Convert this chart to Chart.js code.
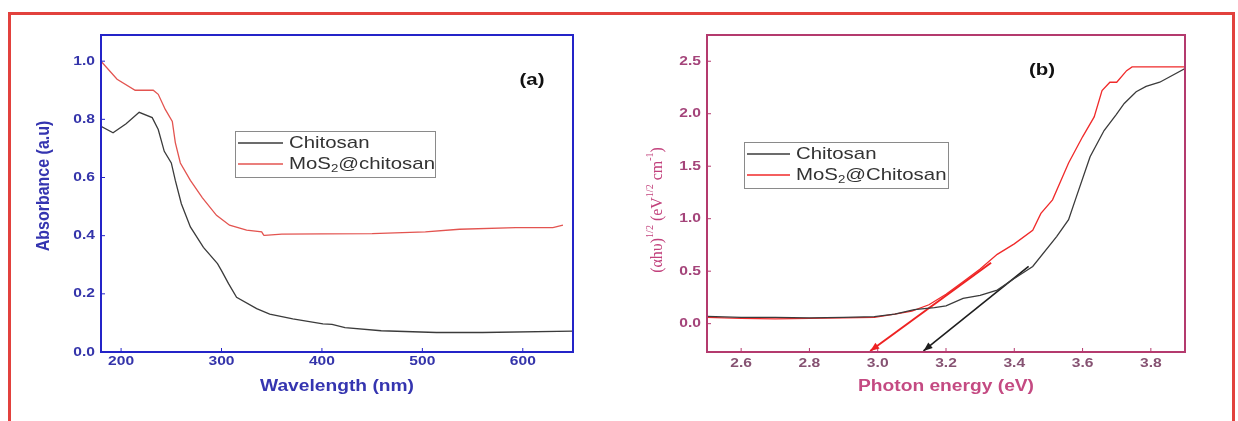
<!DOCTYPE html>
<html>
<head>
<meta charset="utf-8">
<script src="https://cdn.jsdelivr.net/npm/chart.js@4.4.1/dist/chart.umd.min.js"></script>
<style>
  html, body { margin: 0; padding: 0; background: #fff; }
  #wrap { position: relative; width: 1238px; height: 421px; overflow: hidden; }
  #border { position: absolute; left: 8px; top: 12px; width: 1221px; height: 440px;
            border: 3px solid #e2413d; border-bottom: none; }
  canvas { position: absolute; top: 0; }
</style>
</head>
<body>
<div id="wrap">
  <div id="border"></div>
  <canvas id="chartA" width="620" height="421" style="left:0;width:620px;height:421px"></canvas>
  <canvas id="chartB" width="618" height="421" style="left:620px;width:618px;height:421px"></canvas>
</div>
<script>
// (a) absorbance spectra
const wlChitosan = [180, 192, 205, 218, 231, 237, 243, 250, 254, 260, 269, 282, 296, 300, 307, 315, 335, 348, 371, 401, 410, 423, 459, 514, 560, 650];
const absChitosan = [0.776, 0.754, 0.785, 0.824, 0.806, 0.765, 0.69, 0.65, 0.59, 0.51, 0.43, 0.36, 0.304, 0.28, 0.235, 0.188, 0.149, 0.13, 0.114, 0.097, 0.095, 0.084, 0.073, 0.067, 0.067, 0.072];
const wlMos2 = [180, 196, 214, 232, 237, 244, 251, 254, 259, 269, 281, 295, 308, 325, 340, 342, 343, 360, 400, 450, 503, 537, 593, 630, 640];
const absMos2 = [1.0, 0.938, 0.9, 0.9, 0.886, 0.834, 0.793, 0.72, 0.65, 0.59, 0.53, 0.47, 0.436, 0.419, 0.413, 0.402, 0.401, 0.405, 0.406, 0.407, 0.413, 0.422, 0.428, 0.428, 0.436];
const wlTicks = [200, 300, 400, 500, 600];
const wlTickLabels = ['200', '300', '400', '500', '600'];
const absTicks = [0, 0.2, 0.4, 0.6, 0.8, 1.0];
const absTickLabels = ['0.0', '0.2', '0.4', '0.6', '0.8', '1.0'];

// (b) Tauc plot
const eChitosan = [2.5, 2.6, 2.7, 2.8, 2.9, 2.99, 3.05, 3.107, 3.166, 3.2, 3.25, 3.3, 3.35, 3.4, 3.454, 3.524, 3.559, 3.582, 3.622, 3.663, 3.698, 3.722, 3.757, 3.786, 3.826, 3.9];
const taucChitosan = [0.07, 0.06, 0.06, 0.055, 0.06, 0.067, 0.09, 0.133, 0.152, 0.17, 0.24, 0.27, 0.32, 0.43, 0.545, 0.83, 0.99, 1.21, 1.59, 1.84, 1.99, 2.098, 2.21, 2.26, 2.3, 2.43];
const eMos2 = [2.5, 2.6, 2.7, 2.8, 2.9, 2.99, 3.05, 3.1, 3.15, 3.2, 3.25, 3.3, 3.35, 3.4, 3.454, 3.478, 3.512, 3.559, 3.6, 3.634, 3.657, 3.68, 3.7, 3.729, 3.745, 3.9];
const taucMos2 = [0.06, 0.05, 0.045, 0.05, 0.055, 0.06, 0.09, 0.12, 0.18, 0.28, 0.4, 0.52, 0.66, 0.76, 0.89, 1.05, 1.18, 1.53, 1.78, 1.97, 2.22, 2.3, 2.3, 2.41, 2.446, 2.446];
const eFitMos2 = [2.978, 3.332];
const yFitMos2 = [-0.26, 0.58];
const eFitChitosan = [3.134, 3.442];
const yFitChitosan = [-0.26, 0.545];
const eTicks = [2.6, 2.8, 3.0, 3.2, 3.4, 3.6, 3.8];
const eTickLabels = ['2.6', '2.8', '3.0', '3.2', '3.4', '3.6', '3.8'];
const taucTicks = [0, 0.5, 1.0, 1.5, 2.0, 2.5];
const taucTickLabels = ['0.0', '0.5', '1.0', '1.5', '2.0', '2.5'];

const SANS = '"Liberation Sans", Arial, sans-serif';
const SERIF = '"Liberation Serif", "Times New Roman", serif';
const SX = 1.2; // the source figure is stretched sideways

const pts = (xs, ys) => xs.map((x, i) => ({ x, y: ys[i] }));

// draws text made of plain / sup / sub pieces
function richText(ctx, segs, x, y, o) {
  const size = o.size;
  const fontFor = (m) => `${o.weight || 'normal'} ${m ? Math.round(size * 0.62) : size}px ${o.family}`;
  let total = 0;
  segs.forEach(([t, m]) => { ctx.font = fontFor(m); total += ctx.measureText(t).width; });
  ctx.save();
  ctx.translate(x, y);
  ctx.scale(o.sx || 1, 1);
  if (o.rot) ctx.rotate(o.rot);
  ctx.fillStyle = o.color;
  ctx.textBaseline = 'middle';
  ctx.textAlign = 'left';
  let cx = o.align === 'left' ? 0 : o.align === 'right' ? -total : -total / 2;
  segs.forEach(([t, m]) => {
    ctx.font = fontFor(m);
    const dy = m === 'sup' ? -size * 0.38 : m === 'sub' ? size * 0.3 : 0;
    ctx.fillText(t, cx, dy);
    cx += ctx.measureText(t).width;
  });
  ctx.restore();
}

const setTicks = (values) => (scale) => { scale.ticks = values.map((v) => ({ value: v })); };

const decor = (c) => ({
  id: 'decor',
  afterDraw(chart) {
    const { ctx, chartArea: a, scales: { x, y } } = chart;
    ctx.save();
    // inward tick marks
    ctx.strokeStyle = c.frame;
    ctx.lineWidth = 1;
    ctx.beginPath();
    x.ticks.forEach((t) => {
      const px = x.getPixelForValue(t.value);
      ctx.moveTo(px, a.bottom); ctx.lineTo(px, a.bottom - 4);
    });
    y.ticks.forEach((t) => {
      const py = y.getPixelForValue(t.value);
      ctx.moveTo(a.left, py); ctx.lineTo(a.left + 4, py);
    });
    ctx.stroke();
    // frame
    ctx.lineWidth = 2;
    ctx.strokeRect(a.left, a.top, a.right - a.left, a.bottom - a.top);

    // tick labels
    x.ticks.forEach((t, i) => {
      richText(ctx, [[c.xLabels[i], '']], x.getPixelForValue(t.value), a.bottom + c.xLabelDy,
        { size: 13, weight: 'bold', family: SANS, color: c.xTickColor, sx: SX });
    });
    y.ticks.forEach((t, i) => {
      richText(ctx, [[c.yLabels[i], '']], a.left - 6, y.getPixelForValue(t.value),
        { size: 13, weight: 'bold', family: SANS, color: c.yTickColor, sx: SX, align: 'right' });
    });

    // axis titles
    richText(ctx, [[c.xTitle, '']], (a.left + a.right) / 2, 387,
      { size: 16, weight: 'bold', family: SANS, color: c.titleColor, sx: SX });
    richText(ctx, c.yTitle, c.yTitlePos[0], c.yTitlePos[1], c.yTitleStyle);

    // panel label
    richText(ctx, [[c.panel[0], '']], c.panel[1], c.panel[2],
      { size: 17, weight: 'bold', family: SANS, color: '#111', sx: SX });

    // legend
    const L = c.legend;
    ctx.strokeStyle = '#8a8a8a';
    ctx.lineWidth = 1;
    ctx.strokeRect(L.box[0] + 0.5, L.box[1] + 0.5, L.box[2], L.box[3]);
    L.rows.forEach((r) => {
      ctx.strokeStyle = r.color;
      ctx.lineWidth = 1.4;
      ctx.beginPath();
      ctx.moveTo(L.lineX[0], r.y); ctx.lineTo(L.lineX[1], r.y);
      ctx.stroke();
      richText(ctx, r.text, L.textX, r.y, { size: 17, family: SANS, color: '#333', sx: SX, align: 'left' });
    });

    // arrow heads on the fitted lines
    (c.arrows || []).forEach((di) => {
      const meta = chart.getDatasetMeta(di);
      const p0 = meta.data[0], p1 = meta.data[1];
      const ang = Math.atan2(p0.y - p1.y, p0.x - p1.x);
      const len = 9, hw = 3.5;
      ctx.fillStyle = chart.data.datasets[di].borderColor;
      ctx.beginPath();
      ctx.moveTo(p0.x, p0.y);
      ctx.lineTo(p0.x - len * Math.cos(ang) + hw * Math.sin(ang), p0.y - len * Math.sin(ang) - hw * Math.cos(ang));
      ctx.lineTo(p0.x - len * Math.cos(ang) - hw * Math.sin(ang), p0.y - len * Math.sin(ang) + hw * Math.cos(ang));
      ctx.closePath();
      ctx.fill();
    });
    ctx.restore();
  },
});

const axis = (min, max, ticks, size, isX) => ({
  type: 'linear',
  min,
  max,
  grid: { display: false, drawTicks: false },
  border: { display: false },
  ticks: { display: false },
  afterBuildTicks: setTicks(ticks),
  afterFit: (s) => { if (isX) s.height = size; else s.width = size; },
});

const baseOptions = (padRight) => ({
  responsive: false,
  animation: false,
  events: [],
  layout: { padding: { left: 0, top: 35, right: padRight, bottom: 0 } },
  elements: { point: { radius: 0 }, line: { tension: 0 } },
  plugins: { legend: { display: false }, tooltip: { enabled: false } },
});

new Chart(document.getElementById('chartA'), {
  type: 'line',
  data: {
    datasets: [
      { label: 'Chitosan', data: pts(wlChitosan, absChitosan), borderColor: '#3b3b3b', borderWidth: 1.3 },
      { label: 'MoS2@chitosan', data: pts(wlMos2, absMos2), borderColor: '#e35450', borderWidth: 1.3 },
    ],
  },
  options: {
    ...baseOptions(47),
    scales: {
      x: axis(180, 650, wlTicks, 69, true),
      y: axis(0, 1.09, absTicks, 101, false),
    },
  },
  plugins: [decor({
    frame: '#2424c8',
    xTickColor: '#3434aa',
    yTickColor: '#3434aa',
    titleColor: '#3535b0',
    xLabels: wlTickLabels,
    yLabels: absTickLabels,
    xLabelDy: 9,
    xTitle: 'Wavelength (nm)',
    yTitle: [['Absorbance (a.u)', '']],
    yTitlePos: [44, 186],
    yTitleStyle: { size: 16, weight: 'bold', family: SANS, color: '#3535b0', sx: SX, rot: -Math.PI / 2 },
    panel: ['(a)', 532, 80],
    legend: {
      box: [235, 131, 200, 46],
      lineX: [238, 283],
      textX: 289,
      rows: [
        { y: 143, color: '#3b3b3b', text: [['Chitosan', '']] },
        { y: 164, color: '#e35450', text: [['MoS', ''], ['2', 'sub'], ['@chitosan', '']] },
      ],
    },
  })],
});

new Chart(document.getElementById('chartB'), {
  type: 'line',
  data: {
    datasets: [
      { label: 'Chitosan', data: pts(eChitosan, taucChitosan), borderColor: '#3b3b3b', borderWidth: 1.3 },
      { label: 'MoS2@Chitosan', data: pts(eMos2, taucMos2), borderColor: '#f02a2a', borderWidth: 1.3 },
      { label: 'fit MoS2', data: pts(eFitMos2, yFitMos2), borderColor: '#ee2222', borderWidth: 2 },
      { label: 'fit chitosan', data: pts(eFitChitosan, yFitChitosan), borderColor: '#1e1e1e', borderWidth: 1.6 },
    ],
  },
  options: {
    ...baseOptions(53),
    scales: {
      x: axis(2.5, 3.9, eTicks, 69, true),
      y: axis(-0.27, 2.75, taucTicks, 87, false),
    },
  },
  plugins: [decor({
    frame: '#b43a6e',
    xTickColor: '#865272',
    yTickColor: '#a4447a',
    titleColor: '#c44a82',
    xLabels: eTickLabels,
    yLabels: taucTickLabels,
    xLabelDy: 11,
    xTitle: 'Photon energy (eV)',
    yTitle: [['(\u03b1h\u03c5)', ''], ['1/2', 'sup'], [' (eV', ''], ['1/2', 'sup'], [' cm', ''], ['-1', 'sup'], [')', '']],
    yTitlePos: [37, 210],
    yTitleStyle: { size: 16, family: SERIF, color: '#c2417c', sx: 1.1, rot: -Math.PI / 2 },
    panel: ['(b)', 422, 70],
    legend: {
      box: [124, 142, 204, 46],
      lineX: [127, 170],
      textX: 176,
      rows: [
        { y: 154, color: '#3b3b3b', text: [['Chitosan', '']] },
        { y: 175, color: '#f02a2a', text: [['MoS', ''], ['2', 'sub'], ['@Chitosan', '']] },
      ],
    },
    arrows: [2, 3],
  })],
});
</script>
</body>
</html>
